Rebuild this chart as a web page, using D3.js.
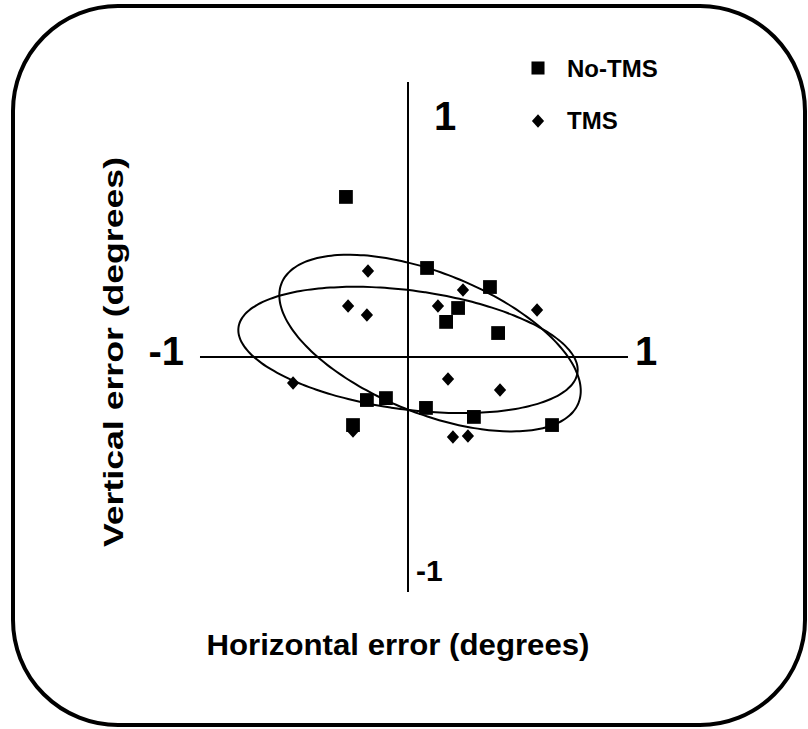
<!DOCTYPE html>
<html>
<head>
<meta charset="utf-8">
<script src="https://cdn.jsdelivr.net/npm/d3@7"></script>
<style>
body{margin:0;background:#fff;}
text{font-family:"Liberation Sans",Arial,sans-serif;font-weight:bold;fill:#000;}
</style>
</head>
<body>
<div id="graph"></div>
<script>
// error points (degrees)
var noTmsX = [-0.290, 0.089, 0.383, 0.234, 0.178, 0.421, -0.192, -0.103, 0.084, 0.308, 0.673, -0.257];
var noTmsY = [0.748, 0.416, 0.327, 0.229, 0.164, 0.112, -0.201, -0.192, -0.238, -0.280, -0.318, -0.318];
var tmsX = [-0.187, -0.280, -0.192, 0.140, 0.257, 0.603, -0.537, 0.187, 0.430, 0.210, 0.280, -0.257];
var tmsY = [0.402, 0.238, 0.196, 0.238, 0.313, 0.220, -0.121, -0.103, -0.154, -0.374, -0.369, -0.346];
// ellipses: centre x, centre y, semi-axis a, semi-axis b, tilt (deg)
var ellNoTms = [0.103, 0.065, 0.748, 0.327, -22];
var ellTms = [0.0, 0.033, 0.799, 0.278, -7.6];
var seriesNames = ["No-TMS", "TMS"];
var xAxisExtent = [-0.972, 1.028];
var yAxisExtent = [-1.098, 1.285];

var W = 808, H = 729;
var vis = d3.select("#graph").append("svg").attr("width", W).attr("height", H);

// frame
vis.append("rect").attr("x", 13).attr("y", 6).attr("width", 792).attr("height", 719)
  .attr("rx", 105).attr("ry", 105)
  .attr("fill", "none").attr("stroke", "#000").attr("stroke-width", 4);

var x = d3.scaleLinear().domain([-1, 1]).range([194, 622]);
var y = d3.scaleLinear().domain([-1, 1]).range([571, 143]);

// axes through the origin
vis.append("line").attr("x1", x(xAxisExtent[0])).attr("x2", x(xAxisExtent[1]))
  .attr("y1", y(0)).attr("y2", y(0)).attr("stroke", "#000").attr("stroke-width", 2);
vis.append("line").attr("x1", x(0)).attr("x2", x(0))
  .attr("y1", y(yAxisExtent[0])).attr("y2", y(yAxisExtent[1])).attr("stroke", "#000").attr("stroke-width", 2);

vis.append("text").attr("x", 184).attr("y", 365).attr("text-anchor", "end").attr("font-size", 40).text("-1");
vis.append("text").attr("x", 635).attr("y", 365).attr("font-size", 40).text("1");
vis.append("text").attr("x", 434).attr("y", 130).attr("font-size", 40).text("1");
vis.append("text").attr("x", 416).attr("y", 581).attr("font-size", 30).text("-1");

// axis titles
vis.append("text").attr("x", 398).attr("y", 655).attr("text-anchor", "middle")
  .attr("font-size", 29).attr("textLength", 383).attr("lengthAdjust", "spacingAndGlyphs")
  .text("Horizontal error (degrees)");
vis.append("text").attr("transform", "translate(123,352) rotate(-90)").attr("text-anchor", "middle")
  .attr("font-size", 28).attr("textLength", 390).attr("lengthAdjust", "spacingAndGlyphs")
  .text("Vertical error (degrees)");

// ellipses
function ellipsePts(e){
  var phi = e[4] * Math.PI / 180, pts = [];
  for (var i = 0; i <= 120; i++){
    var t = i / 120 * 2 * Math.PI;
    pts.push([e[0] + e[2]*Math.cos(t)*Math.cos(phi) - e[3]*Math.sin(t)*Math.sin(phi),
              e[1] + e[2]*Math.cos(t)*Math.sin(phi) + e[3]*Math.sin(t)*Math.cos(phi)]);
  }
  return pts;
}
var line = d3.line().x(function(d){ return x(d[0]); }).y(function(d){ return y(d[1]); })
  .curve(d3.curveCardinalClosed);
vis.selectAll("path.ell").data([ellNoTms, ellTms]).enter().append("path")
  .attr("class", "ell")
  .attr("d", function(e){ return line(ellipsePts(e).slice(0, 120)); })
  .attr("fill", "none").attr("stroke", "#000").attr("stroke-width", 2);

var diamond = {draw: function(ctx, size){
  var r = Math.sqrt(size) / 2;
  ctx.moveTo(0, -r*1.1); ctx.lineTo(r, 0); ctx.lineTo(0, r*1.1); ctx.lineTo(-r, 0); ctx.closePath();
}};

var sq = noTmsX.map(function(v, i){ return {x: v, y: noTmsY[i]}; });
var dm = tmsX.map(function(v, i){ return {x: v, y: tmsY[i]}; });

vis.selectAll("path.sq").data(sq).enter().append("path").attr("class", "sq")
  .attr("d", d3.symbol().type(d3.symbolSquare).size(190))
  .attr("transform", function(d){ return "translate(" + x(d.x) + "," + y(d.y) + ")"; })
  .attr("fill", "#000");
vis.selectAll("path.dm").data(dm).enter().append("path").attr("class", "dm")
  .attr("d", d3.symbol().type(diamond).size(150))
  .attr("transform", function(d){ return "translate(" + x(d.x) + "," + y(d.y) + ")"; })
  .attr("fill", "#000");

// legend
var leg = vis.append("g");
leg.append("path").attr("d", d3.symbol().type(d3.symbolSquare).size(170)).attr("transform", "translate(538,68)");
leg.append("path").attr("d", d3.symbol().type(diamond).size(150)).attr("transform", "translate(538,121)");
leg.selectAll("text").data(seriesNames).enter().append("text")
  .attr("x", 567).attr("y", function(d, i){ return i ? 129 : 77; })
  .attr("font-size", 24).text(function(d){ return d; });
</script>
</body>
</html>
